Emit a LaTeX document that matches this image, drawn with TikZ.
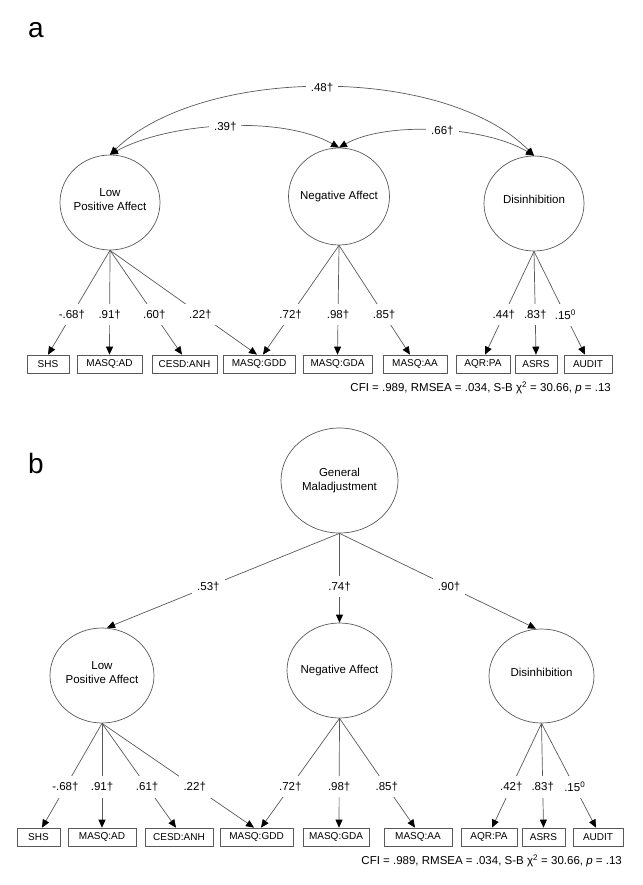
\documentclass[tikz,border=0pt]{standalone}
\usepackage{fontspec}
\setmainfont{Liberation Sans}
\usetikzlibrary{shapes.geometric,arrows.meta}
\begin{document}
\begin{tikzpicture}[x=1pt,y=-1pt,
  lv/.style={ellipse, draw=black!65, line width=0.7pt, inner sep=0pt},
  lvtext/.style={align=center, inner sep=0pt, font=\fontsize{11.5}{14}\selectfont},
  obs/.style={rectangle, draw=black!65, line width=0.7pt, minimum height=18pt, inner sep=0pt, font=\fontsize{10}{12}\selectfont},
  ld/.style={draw=black!65, line width=0.7pt, -{Triangle[length=8pt,width=7pt,color=black]}},
  cov/.style={draw=black!65, line width=0.7pt, {Triangle[length=8pt,width=7pt,color=black]}-{Triangle[length=8pt,width=7pt,color=black]}},
  lbl/.style={fill=white, inner xsep=5pt, inner ysep=6pt, font=\fontsize{11.5}{14}\selectfont},
  panel/.style={font=\fontsize{28}{30}\selectfont, anchor=base west, inner sep=0pt},
  fitline/.style={font=\fontsize{11.5}{14}\selectfont, anchor=east, inner sep=0pt}
]
\useasboundingbox (0,0) rectangle (642,885);

% ---------------- Panel a ----------------
\node[panel] (pa) at (28,38) {a};

\node[lv, minimum width=100pt, minimum height=95pt,
      label={[lvtext, yshift=3pt]center:Low\\Positive Affect}] (lpa) at (110,202.5) {};
\node[lv, minimum width=101pt, minimum height=97pt,
      label={[lvtext]center:Negative Affect}] (na) at (339,196.5) {};
\node[lv, minimum width=100pt, minimum height=95pt,
      label={[lvtext, yshift=4pt]center:Disinhibition}] (dis) at (534,203.5) {};

\node[obs, minimum width=42pt] (shs) at (48,364) {SHS};
\node[obs, minimum width=65pt] (ad) at (109.5,364) {MASQ:AD};
\node[obs, minimum width=65pt] (anh) at (184.5,364) {CESD:ANH};
\node[obs, minimum width=72pt] (gdd) at (259,364) {MASQ:GDD};
\node[obs, minimum width=69pt] (gda) at (337.5,364) {MASQ:GDA};
\node[obs, minimum width=64pt] (aa) at (415,364) {MASQ:AA};
\node[obs, minimum width=54pt] (aqr) at (483,364) {AQR:PA};
\node[obs, minimum width=42pt] (asrs) at (536,364) {ASRS};
\node[obs, minimum width=48pt] (audit) at (588,364) {AUDIT};

\draw[cov] (lpa.north) .. controls (201,66) and (443,64) .. node[lbl, pos=0.5] {.48†} (dis.north);
\draw[cov] (lpa.north) .. controls (169,122) and (282,115) .. node[lbl, pos=0.5] {.39†} (na.north);
\draw[cov] (na.north) .. controls (386,121) and (485,126) .. node[lbl, pos=0.53] {.66†} (dis.north);

\draw[ld] (lpa.south) -- node[lbl, pos=.615] {-.68†} (shs.north);
\draw[ld] (lpa.south) -- node[lbl, pos=.615] {.91†} (ad.north);
\draw[ld] (lpa.south) -- node[lbl, pos=.615] {.60†} ([xshift=-2.5pt]anh.north);
\draw[ld] (lpa.south) -- node[lbl, pos=.615] {.22†} ([xshift=-2pt]gdd.north);
\draw[ld] (na.south) -- node[lbl, pos=.636] {.72†} ([xshift=4pt]gdd.north);
\draw[ld] (na.south) -- node[lbl, pos=.636] {.98†} (gda.north);
\draw[ld] (na.south) -- node[lbl, pos=.636] {.85†} ([xshift=-5pt]aa.north);
\draw[ld] (dis.south) -- node[lbl, pos=.615] {.44†} ([xshift=2pt]aqr.north);
\draw[ld] (dis.south) -- node[lbl, pos=.615] {.83†} (asrs.north);
\draw[ld] (dis.south) -- node[lbl, pos=.615] {.15\textsuperscript{0}} ([xshift=-3pt]audit.north);

\node[fitline] (fa) at (611,388) {CFI = .989, RMSEA = .034, S-B χ\textsuperscript{2} = 30.66, \textit{p} = .13};

% ---------------- Panel b ----------------
\node[panel] (pb) at (28,473) {b};

\node[lv, minimum width=117pt, minimum height=105pt,
      label={[lvtext]center:General\\Maladjustment}] (gm) at (339.5,480.5) {};

\node[lv, minimum width=104pt, minimum height=95pt,
      label={[lvtext, yshift=3pt]center:Low\\Positive Affect}] (lpab) at (102,675.5) {};
\node[lv, minimum width=105pt, minimum height=95pt,
      label={[lvtext]center:Negative Affect}] (nab) at (339.5,670.5) {};
\node[lv, minimum width=105pt, minimum height=94pt,
      label={[lvtext, yshift=4pt]center:Disinhibition}] (disb) at (541.5,676) {};

\draw[ld] (gm.south) -- node[lbl, pos=.564] {.53†} ([xshift=5pt]lpab.north);
\draw[ld] (gm.south) -- node[lbl, pos=.596] {.74†} (nab.north);
\draw[ld] (gm.south) -- node[lbl, pos=.558] {.90†} ([xshift=-5.5pt]disb.north);

\node[obs, minimum width=43pt] (shsb) at (38.5,837) {SHS};
\node[obs, minimum width=68pt] (adb) at (102,837) {MASQ:AD};
\node[obs, minimum width=68pt] (anhb) at (179,837) {CESD:ANH};
\node[obs, minimum width=73pt] (gddb) at (256.5,837) {MASQ:GDD};
\node[obs, minimum width=66pt] (gdab) at (336,837) {MASQ:GDA};
\node[obs, minimum width=68pt] (aab) at (418,837) {MASQ:AA};
\node[obs, minimum width=56pt] (aqrb) at (489,837) {AQR:PA};
\node[obs, minimum width=43pt] (asrsb) at (543.5,837) {ASRS};
\node[obs, minimum width=50pt] (auditb) at (598,837) {AUDIT};

\draw[ld] (lpab.south) -- node[lbl, pos=.61] {-.68†} ([xshift=3.5pt]shsb.north);
\draw[ld] (lpab.south) -- node[lbl, pos=.61] {.91†} (adb.north);
\draw[ld] (lpab.south) -- node[lbl, pos=.61] {.61†} ([xshift=-3pt]anhb.north);
\draw[ld] (lpab.south) -- node[lbl, pos=.61] {.22†} ([xshift=-2.5pt]gddb.north);
\draw[ld] (nab.south) -- node[lbl, pos=.627] {.72†} ([xshift=4.5pt]gddb.north);
\draw[ld] (nab.south) -- node[lbl, pos=.627] {.98†} ([xshift=3pt]gdab.north);
\draw[ld] (nab.south) -- node[lbl, pos=.627] {.85†} ([xshift=-3pt]aab.north);
\draw[ld] (disb.south) -- node[lbl, pos=.61] {.42†} ([xshift=3pt]aqrb.north);
\draw[ld] (disb.south) -- node[lbl, pos=.61] {.83†} (asrsb.north);
\draw[ld] (disb.south) -- node[lbl, pos=.61] {.15\textsuperscript{0}} ([xshift=-2pt]auditb.north);

\node[fitline] (fb) at (622,861) {CFI = .989, RMSEA = .034, S-B χ\textsuperscript{2} = 30.66, \textit{p} = .13};
\end{tikzpicture}
\end{document}
